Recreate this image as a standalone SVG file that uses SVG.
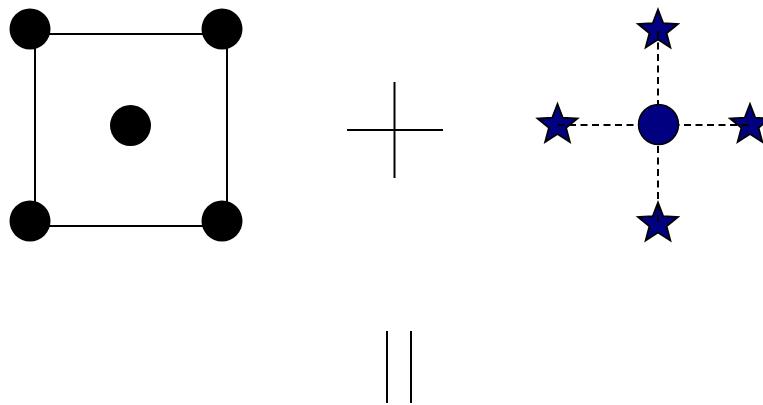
<svg xmlns="http://www.w3.org/2000/svg" xmlns:xlink="http://www.w3.org/1999/xlink" width="763" height="405" viewBox="0 0 763 405">
<style>
.line{stroke:#000;stroke-width:2;fill:none}
.dot{fill:#000}
.star{fill:#000080;stroke:#000;stroke-width:1.8;stroke-linejoin:miter}
.dash{stroke:#000;stroke-width:2;stroke-dasharray:7 4.5;fill:none}
.hub{fill:#000080;stroke:#000;stroke-width:1.5}
</style>
<defs>
<polygon id="starShape" points="0,-21 5.29,-7.28 19.97,-6.49 8.56,2.78 12.34,16.99 0,9 -12.34,16.99 -8.56,2.78 -19.97,-6.49 -5.29,-7.28"/>
</defs>
<rect x="0" y="0" width="763" height="405" fill="#fff"/>
<g id="lattice">
<rect class="line" x="35" y="34" width="192" height="192"/>
<circle class="dot" cx="30" cy="29" r="20.5"/>
<circle class="dot" cx="222" cy="29" r="20.5"/>
<circle class="dot" cx="30" cy="221" r="20.5"/>
<circle class="dot" cx="222" cy="221" r="20.5"/>
<circle class="dot" cx="130.5" cy="125.5" r="20.5"/>
</g>
<g id="plus">
<line class="line" x1="347" y1="130" x2="443" y2="130"/>
<line class="line" x1="394.5" y1="82" x2="394.5" y2="178"/>
</g>
<g id="basis-stars">
<use href="#starShape" xlink:href="#starShape" class="star" transform="translate(658,30.5)"/>
<use href="#starShape" xlink:href="#starShape" class="star" transform="translate(557.5,125)"/>
<use href="#starShape" xlink:href="#starShape" class="star" transform="translate(750,125)"/>
<use href="#starShape" xlink:href="#starShape" class="star" transform="translate(658,223.5)"/>
</g>
<g id="connectors">
<line class="dash" x1="557.5" y1="125" x2="750" y2="125"/>
<line class="dash" x1="658" y1="31" x2="658" y2="224"/>
</g>
<g id="basis-hub">
<circle class="hub" cx="658.5" cy="124.5" r="20"/>
</g>
<g id="equals">
<line class="line" x1="387" y1="331" x2="387" y2="403"/>
<line class="line" x1="411" y1="331" x2="411" y2="403"/>
</g>
</svg>
